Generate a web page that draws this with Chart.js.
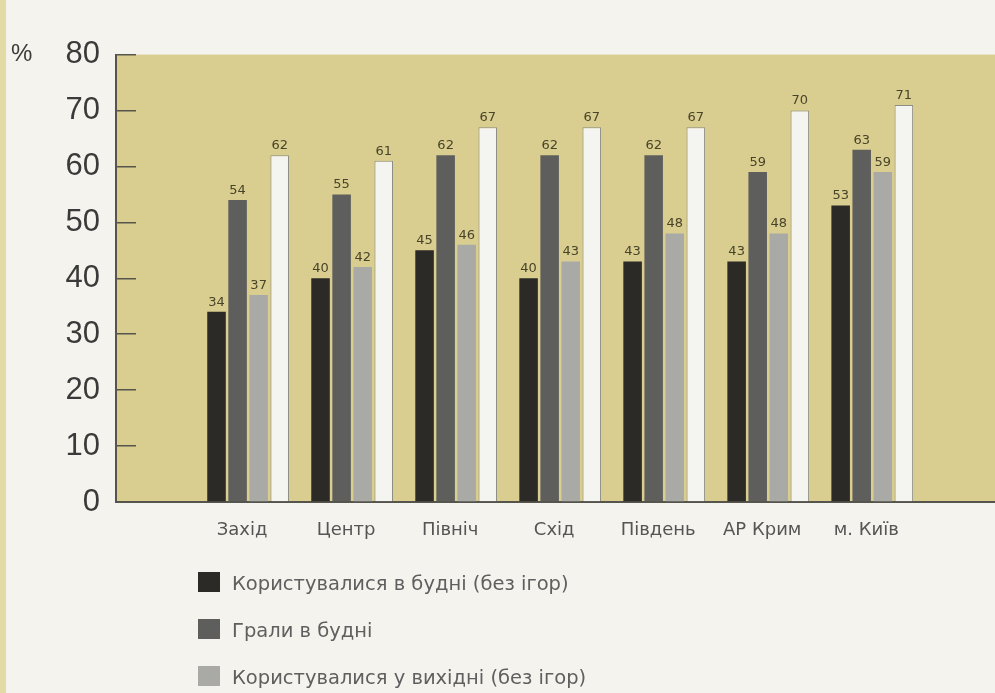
<!DOCTYPE html>
<html>
<head>
<meta charset="utf-8">
<script src="https://cdn.jsdelivr.net/npm/chart.js@4"></script>
<style>
  body { margin: 0; background: #f4f3ee; }
  #wrap { position: relative; width: 995px; height: 693px; border-left: 6px solid #e2dba6; box-sizing: border-box; }
  canvas { position: absolute; left: -6px; top: 0; }
  #legend { position: absolute; left: 192px; top: 572px; font-family: "DejaVu Sans", sans-serif; font-size: 19.5px; color: #5f5f5f; }
  .item { height: 47px; display: flex; align-items: flex-start; }
  .box { width: 22px; height: 20px; margin-right: 12px; }
</style>
</head>
<body>
<div id="wrap">
  <canvas id="chart" width="995" height="693"></canvas>
  <div id="legend"></div>
</div>
<script>
// Regions
const categories = ['Захід', 'Центр', 'Північ', 'Схід', 'Південь', 'АР Крим', 'м. Київ'];

// Series, %
const weekdayUse = [34, 40, 45, 40, 43, 43, 53];
const weekdayGames = [54, 55, 62, 62, 62, 59, 63];
const weekendUse = [37, 42, 46, 43, 48, 48, 59];
const weekendGames = [62, 61, 67, 67, 67, 70, 71];

const seriesNames = [
    'Користувалися в будні (без ігор)',
    'Грали в будні',
    'Користувалися у вихідні (без ігор)',
    'Грали у вихідні'
];
const seriesColors = ['#2b2a26', '#5e5e5d', '#a9aaa6', '#f4f4f0'];

const yTicks = [0, 10, 20, 30, 40, 50, 60, 70, 80];

const FONT = '"DejaVu Sans", sans-serif';
const NUM_FONT = '"Liberation Sans", Arial, sans-serif';

// Value labels above each bar
const valueLabels = {
    id: 'valueLabels',
    afterDatasetsDraw(chart) {
        const ctx = chart.ctx;
        ctx.save();
        ctx.font = '13px ' + FONT;
        ctx.fillStyle = '#48442a';
        ctx.textAlign = 'center';
        ctx.textBaseline = 'bottom';
        chart.data.datasets.forEach((ds, i) => {
            chart.getDatasetMeta(i).data.forEach((bar, j) => {
                ctx.fillText(ds.data[j], bar.x, bar.y - 3);
            });
        });
        ctx.restore();
    }
};

// Plot background and the "%" mark
const plotBack = {
    id: 'plotBack',
    beforeDraw(chart) {
        const { ctx, chartArea } = chart;
        ctx.save();
        ctx.fillStyle = '#d9ce8f';
        ctx.fillRect(chartArea.left, chartArea.top, chartArea.right - chartArea.left, chartArea.bottom - chartArea.top);
        ctx.restore();
    },
    afterDraw(chart) {
        const ctx = chart.ctx;
        const y = chart.scales.y.getPixelForValue(80);
        ctx.save();
        ctx.font = '24px ' + NUM_FONT;
        ctx.fillStyle = '#3a3a3a';
        ctx.textBaseline = 'middle';
        ctx.fillText('%', 11, y);
        ctx.restore();
    }
};

const chart = new Chart(document.getElementById('chart'), {
    type: 'bar',
    data: {
        labels: categories.map((c, i) => i),
        datasets: seriesNames.map((name, i) => ({
            label: name,
            data: [weekdayUse, weekdayGames, weekendUse, weekendGames][i],
            backgroundColor: seriesColors[i],
            borderColor: i === 3 ? '#8d8d86' : seriesColors[i],
            borderWidth: i === 3 ? 1 : 0,
            categoryPercentage: 0.81,
            barPercentage: 0.88
        }))
    },
    options: {
        responsive: false,
        animation: false,
        layout: { padding: { top: 34, right: 0, bottom: 141, left: 0 } },
        plugins: {
            legend: { display: false },
            tooltip: { enabled: false }
        },
        scales: {
            x: {
                type: 'linear',
                offset: false,
                min: -1.27,
                max: 7.18,
                afterBuildTicks: (scale) => { scale.ticks = categories.map((c, i) => ({ value: i })); },
                afterFit: (scale) => { scale.height = 50; },
                grid: { display: false, drawTicks: false },
                border: { display: true, color: '#55554d', width: 2 },
                ticks: {
                    callback: (v) => categories[v],
                    font: { family: FONT, size: 18 },
                    color: '#555',
                    padding: 18,
                    labelOffset: -6,
                    maxRotation: 0,
                    autoSkip: false
                }
            },
            y: {
                min: 0,
                max: 80,
                afterBuildTicks: (scale) => { scale.ticks = yTicks.map(v => ({ value: v })); },
                afterFit: (scale) => { scale.width = 116; },
                grid: { drawOnChartArea: false, drawTicks: true, tickLength: -20, color: '#55554d', lineWidth: 1.5 },
                border: { display: true, color: '#55554d', width: 2 },
                ticks: {
                    font: { family: NUM_FONT, size: 31 },
                    color: '#3a3a3a',
                    padding: 36
                }
            }
        }
    },
    plugins: [plotBack, valueLabels]
});

// Legend (only the first three series are shown in the figure)
const legend = document.getElementById('legend');
seriesNames.slice(0, 3).forEach((name, i) => {
    const item = document.createElement('div');
    item.className = 'item';
    const box = document.createElement('span');
    box.className = 'box';
    box.style.background = seriesColors[i];
    const txt = document.createElement('span');
    txt.textContent = name;
    item.appendChild(box);
    item.appendChild(txt);
    legend.appendChild(item);
});
</script>
</body>
</html>
